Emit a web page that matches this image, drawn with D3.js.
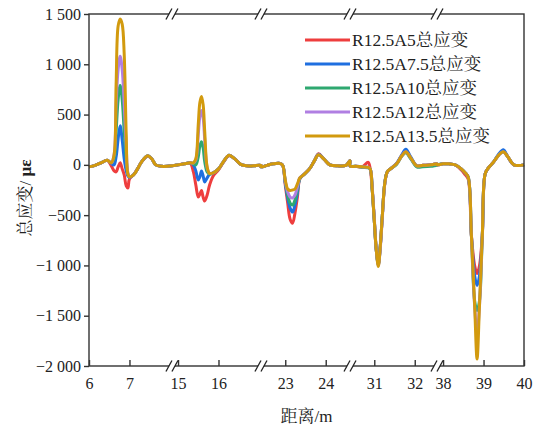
<!DOCTYPE html>
<html>
<head>
<meta charset="utf-8">
<script src="https://cdn.jsdelivr.net/npm/d3@7"></script>
<style>
  html, body { margin: 0; padding: 0; background: #fff; }
  svg { display: block; }
  text { font-family: "Liberation Serif", "Noto Serif CJK SC", "Noto Sans CJK SC", serif; fill: #222; }
</style>
</head>
<body>
<svg id="chart" width="541" height="428"></svg>
<script>
// Broken distance axis: visible stretches of the member (m)
const segments = [[6, 8.05], [14.85, 17.05], [22.4, 24.6], [30.4, 32.55], [37.85, 40]];
const xTickValues = [6, 7, 15, 16, 23, 24, 31, 32, 38, 39, 40];
const yTickValues = [1500, 1000, 500, 0, -500, -1000, -1500, -2000];

// Measurement positions along the member (m), all segments in order
const distance = [
  6.0, 6.15, 6.3, 6.45, 6.55, 6.62, 6.67, 6.72, 6.77, 6.82, 6.87, 6.92, 6.96, 7.0, 7.1, 7.2, 7.3, 7.45, 7.55, 7.65, 7.8, 8.05,
  14.85, 15.0, 15.15, 15.3, 15.38, 15.44, 15.5, 15.54, 15.58, 15.62, 15.66, 15.72, 15.78, 15.87, 16.0, 16.12, 16.26, 16.4, 16.55, 16.7, 16.85, 17.05,
  22.4, 22.55, 22.7, 22.85, 22.93, 23.0, 23.06, 23.12, 23.18, 23.24, 23.3, 23.36, 23.45, 23.6, 23.72, 23.82, 23.95, 24.1, 24.3, 24.5, 24.6,
  30.4, 30.55, 30.7, 30.85, 30.9, 30.95, 31.0, 31.05, 31.1, 31.15, 31.2, 31.26, 31.32, 31.4, 31.55, 31.68, 31.78, 31.9, 32.05, 32.2, 32.4, 32.55,
  37.85, 38.0, 38.15, 38.3, 38.45, 38.55, 38.62, 38.7, 38.78, 38.84, 38.9, 38.97, 39.04, 39.12, 39.25, 39.38, 39.49, 39.6, 39.75, 40.0
];

// Total strain (με) for each amplitude case
const strainA5 = [
  -20, -5, 20, 45, -10, -60, -70, -20, 20, -40, -100, -210, -230, -140, -100, -40, 30, 85, 60, 0, -15, -10,
  -10, 0, 10, 15, -70, -200, -320, -290, -255, -320, -360, -300, -200, -110, -50, 25, 90, 60, 5, -10, -10, -5,
  -20, -5, 10, 15, 0, -200, -380, -540, -580, -480, -320, -140, -100, -40, 40, 110, 60, 0, -10, -5, 40,
  -10, -15, -20, 25, -40, -250, -550, -850, -980, -800, -500, -180, -70, -40, 10, 95, 140, 70, -10, -5, 0, 10,
  0, 10, 10, 0, -50, -100, -140, -700, -1000, -1080, -1000, -700, -90, -30, 30, 100, 135, 80, 0, 0
];
const strainA7_5 = [
  -20, -5, 20, 45, 15, 0, 80, 260, 390, 250, 60, -60, -110, -125, -100, -40, 30, 90, 60, 0, -15, -10,
  -10, 0, 10, 20, 0, -60, -150, -120, -60, -110, -170, -130, -95, -80, -40, 30, 95, 60, 5, -10, -10, -5,
  -20, -5, 10, 15, 0, -180, -330, -430, -470, -400, -280, -135, -100, -40, 40, 105, 60, 0, -10, -5, 40,
  -10, -15, -20, -25, -40, -250, -550, -850, -990, -800, -500, -180, -70, -40, 15, 100, 155, 80, -10, -5, 0, 10,
  0, 10, 10, 0, -40, -80, -120, -700, -1100, -1200, -1100, -700, -90, -30, 30, 110, 150, 80, 0, 0
];
const strainA10 = [
  -20, -5, 20, 45, 20, 60, 330, 650, 790, 650, 330, 60, -90, -120, -100, -40, 30, 90, 60, 0, -15, -10,
  -10, 0, 10, 20, 10, 0, 80, 190, 230, 170, 30, -70, -90, -80, -40, 30, 95, 60, 5, -10, -10, -5,
  -20, -5, 10, 15, 0, -170, -300, -380, -400, -350, -250, -135, -100, -40, 40, 100, 60, 0, -10, -5, 40,
  -10, -15, -25, -30, -45, -250, -550, -850, -995, -800, -500, -180, -70, -40, 5, 85, 120, 60, -20, -20, -15, -5,
  0, 10, 10, 0, -40, -80, -120, -700, -1350, -1450, -1350, -700, -90, -30, 30, 100, 130, 80, 0, 0
];
const strainA12 = [
  -20, -5, 20, 45, 20, 100, 600, 950, 1080, 950, 600, 180, -80, -120, -100, -40, 30, 90, 60, 0, -15, -10,
  -10, 0, 10, 20, 20, 50, 300, 480, 540, 470, 250, -30, -85, -80, -40, 30, 95, 60, 5, -10, -10, -5,
  -20, -5, 10, 15, 0, -160, -270, -320, -330, -300, -220, -130, -100, -40, 40, 100, 60, 0, -10, -5, 40,
  -10, -15, -20, -25, -40, -230, -530, -840, -1000, -820, -520, -190, -75, -40, 10, 90, 130, 70, -10, -5, 0, 10,
  0, 10, 10, 0, -40, -80, -120, -700, -1400, -1680, -1400, -700, -90, -30, 30, 100, 130, 80, 0, 0
];
const strainA13_5 = [
  -20, -5, 20, 45, 20, 100, 800, 1380, 1450, 1400, 1100, 300, -90, -120, -100, -40, 30, 90, 60, 0, -15, -10,
  -10, 0, 10, 20, 20, 60, 400, 620, 680, 600, 330, -20, -85, -80, -40, 30, 95, 60, 5, -10, -10, -5,
  -20, -5, 10, 15, 0, -150, -240, -255, -250, -240, -190, -130, -100, -40, 40, 100, 60, 0, -10, -5, 40,
  -10, -15, -20, -25, -40, -250, -550, -850, -1010, -800, -500, -180, -70, -40, 10, 90, 130, 70, -10, -5, 0, 10,
  0, 10, 10, 0, -40, -80, -120, -700, -1400, -1930, -1400, -700, -90, -30, 30, 100, 130, 80, 0, 0
];

const seriesNames = ["R12.5A5总应变", "R12.5A7.5总应变", "R12.5A10总应变", "R12.5A12总应变", "R12.5A13.5总应变"];
const seriesValues = [strainA5, strainA7_5, strainA10, strainA12, strainA13_5];
const seriesColors = ["#ee3e3e", "#1f6fe0", "#2ea870", "#b07fe2", "#d29a0e"];

const svg = d3.select("#chart");
const plot = { left: 89, right: 524, top: 14, bottom: 366 };

// Piecewise scale: each visible stretch gets the same metres-to-pixels ratio
const totalLen = d3.sum(segments, s => s[1] - s[0]);
const pxPerM = (plot.right - plot.left) / totalLen;
const xDomain = [], xRange = [];
let cursor = plot.left;
segments.forEach(s => {
  xDomain.push(s[0], s[1]);
  xRange.push(cursor, cursor + (s[1] - s[0]) * pxPerM);
  cursor += (s[1] - s[0]) * pxPerM;
});
const x = d3.scaleLinear().domain(xDomain).range(xRange);
const y = d3.scaleLinear().domain([-2000, 1500]).range([plot.bottom, plot.top]);
const breakXs = xRange.slice(1, -1).filter((d, i) => i % 2 === 0);

const fmt = v => {
  const a = Math.abs(v);
  const s = a >= 1000 ? Math.floor(a / 1000) + " " + String(a % 1000).padStart(3, "0") : String(a);
  return (v < 0 ? "\u2212" : "") + s;
};

// Curves
const line = d3.line()
  .x(d => x(d[0]))
  .y(d => y(d[1]))
  .curve(d3.curveCatmullRom.alpha(0.5));

const curves = svg.append("g");
seriesValues.forEach((vals, i) => {
  curves.append("path")
    .datum(distance.map((d, j) => [d, vals[j]]))
    .attr("d", line)
    .attr("fill", "none")
    .attr("stroke", seriesColors[i])
    .attr("stroke-width", 3)
    .attr("stroke-linejoin", "round");
});

// Frame
const axisColor = "#333";
const frame = svg.append("g").attr("stroke", axisColor).attr("stroke-width", 1.4).attr("fill", "none");
frame.append("rect")
  .attr("x", plot.left).attr("y", plot.top)
  .attr("width", plot.right - plot.left).attr("height", plot.bottom - plot.top);

// Y axis ticks (outward) and labels
const yAxis = svg.append("g").attr("transform", `translate(${plot.left},0)`)
  .call(d3.axisLeft(y).tickValues(yTickValues).tickSize(5).tickPadding(3).tickFormat(fmt));
yAxis.select(".domain").remove();
yAxis.selectAll(".tick line").attr("stroke", axisColor).attr("stroke-width", 1.4);
yAxis.selectAll(".tick text").attr("font-size", 16).attr("font-family", null).attr("fill", "#222");

// X axis ticks (inward) and labels
const xAxis = svg.append("g").attr("transform", `translate(0,${plot.bottom})`)
  .call(d3.axisBottom(x).tickValues(xTickValues).tickSize(-6).tickPadding(12).tickFormat(d3.format("d")));
xAxis.select(".domain").remove();
xAxis.selectAll(".tick line").attr("stroke", axisColor).attr("stroke-width", 1.4);
xAxis.selectAll(".tick text").attr("font-size", 16).attr("font-family", null).attr("fill", "#222");

// Break marks on the top and bottom edges
const breaks = svg.append("g");
[plot.top, plot.bottom].forEach(yy => {
  breakXs.forEach(bx => {
    breaks.append("rect").attr("x", bx - 3).attr("y", yy - 1.5).attr("width", 6).attr("height", 3).attr("fill", "#fff");
    [-3, 3].forEach(dx => {
      breaks.append("line")
        .attr("x1", bx + dx - 3).attr("y1", yy + 5.5)
        .attr("x2", bx + dx + 3).attr("y2", yy - 5.5)
        .attr("stroke", "#222").attr("stroke-width", 1.3);
    });
  });
});

// Axis titles
svg.append("text")
  .attr("x", (plot.left + plot.right) / 2).attr("y", 422)
  .attr("text-anchor", "middle").attr("font-size", 17)
  .text("距离/m");

const yTitle = svg.append("text")
  .attr("transform", `translate(31,${(plot.top + plot.bottom) / 2 + 8}) rotate(-90)`)
  .attr("text-anchor", "middle").attr("font-size", 17);
yTitle.append("tspan").text("总应变/ ");
yTitle.append("tspan").attr("font-weight", "bold").text("με");

// Legend
const legend = svg.append("g");
seriesNames.forEach((name, i) => {
  const ly = 40 + i * 24;
  legend.append("line")
    .attr("x1", 305).attr("x2", 350).attr("y1", ly).attr("y2", ly)
    .attr("stroke", seriesColors[i]).attr("stroke-width", 3);
  legend.append("text")
    .attr("x", 352).attr("y", ly + 6)
    .attr("font-size", 17.5)
    .text(name);
});
</script>
</body>
</html>
